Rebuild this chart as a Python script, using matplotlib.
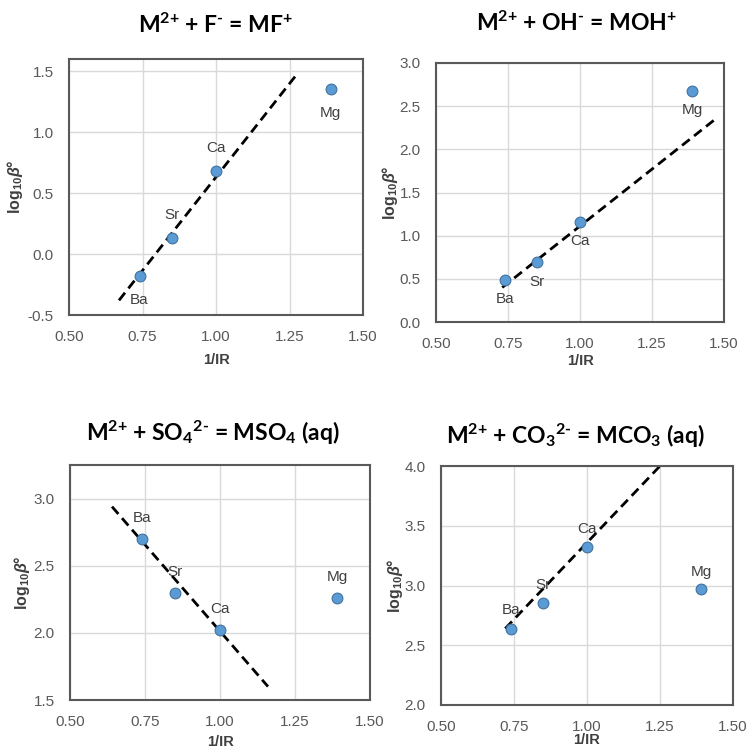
import matplotlib
matplotlib.use("Agg")
import matplotlib.pyplot as plt

plt.rcParams['font.family'] = ['Liberation Sans', 'DejaVu Sans']
plt.rcParams['mathtext.default'] = 'regular'
plt.rcParams['mathtext.fontset'] = 'custom'
plt.rcParams['mathtext.rm'] = 'Lato:bold'
plt.rcParams['mathtext.bf'] = 'Lato:bold'
plt.rcParams['mathtext.it'] = 'Liberation Sans:italic:bold'

# 1/IR values for the four metals
metals = ['Ba', 'Sr', 'Ca', 'Mg']
inv_ir = [0.74, 0.85, 1.00, 1.39]

# log10 beta values
logb_f = [-0.18, 0.13, 0.68, 1.35]
logb_oh = [0.49, 0.69, 1.16, 2.68]
logb_so4 = [2.70, 2.30, 2.02, 2.26]
logb_co3 = [2.64, 2.85, 3.32, 2.97]

# dashed fit lines (end points)
fit_f_x, fit_f_y = [0.67, 1.28], [-0.38, 1.49]
fit_oh_x, fit_oh_y = [0.73, 1.47], [0.40, 2.35]
fit_so4_x, fit_so4_y = [0.64, 1.16], [2.94, 1.60]
fit_co3_x, fit_co3_y = [0.72, 1.25], [2.64, 4.00]

titles = [r'M$^{\text{2+}}$ + F$^{\text{-}}$ = MF$^{\text{+}}$',
          r'M$^{\text{2+}}$ + OH$^{\text{-}}$ = MOH$^{\text{+}}$',
          r'M$^{\text{2+}}$ + SO$_{\text{4}}$$^{\text{2-}}$ = MSO$_{\text{4}}$ (aq)',
          r'M$^{\text{2+}}$ + CO$_{\text{3}}$$^{\text{2-}}$ = MCO$_{\text{3}}$ (aq)']

fig = plt.figure(figsize=(7.5, 7.52), dpi=100)

W, H = 750, 752
def box(l, r, t, b):
    return [l / W, (H - b) / H, (r - l) / W, (b - t) / H]

panels = [
    dict(pos=box(69, 363, 59, 315), y=logb_f, fx=fit_f_x, fy=fit_f_y,
         ylim=(-0.5, 1.6), yt=[-0.5, 0, 0.5, 1.0, 1.5],
         off=[-17, 17, 17, -17], title_xy=(215, 25), xl=360, yl=15),
    dict(pos=box(436, 724, 63, 322), y=logb_oh, fx=fit_oh_x, fy=fit_oh_y,
         ylim=(0, 3.0), yt=[0, 0.5, 1.0, 1.5, 2.0, 2.5, 3.0],
         off=[-14, -14, -14, -14], title_xy=(577, 23), xl=361, yl=390),
    dict(pos=box(70, 370, 465, 700), y=logb_so4, fx=fit_so4_x, fy=fit_so4_y,
         ylim=(1.5, 3.25), yt=[1.5, 2.0, 2.5, 3.0],
         off=[15, 15, 15, 15], title_xy=(213, 433), xl=742, yl=22),
    dict(pos=box(441, 733, 466, 705), y=logb_co3, fx=fit_co3_x, fy=fit_co3_y,
         ylim=(2.0, 4.0), yt=[2.0, 2.5, 3.0, 3.5, 4.0],
         off=[13, 13, 13, 12], title_xy=(575, 436), xl=740, yl=395),
]

for p, title in zip(panels, titles):
    ax = fig.add_axes(p['pos'])
    ax.plot(p['fx'], p['fy'], color='black', lw=2, linestyle=(0, (3.5, 2)), zorder=2)
    ax.scatter(inv_ir, p['y'], s=60, color='#5b9bd5', edgecolor='#41719c',
               linewidth=0.8, zorder=3)
    for m, x, y, o in zip(metals, inv_ir, p['y'], p['off']):
        ax.annotate(m, (x, y), xytext=(0, o), textcoords='offset points',
                    ha='center', va='center', fontsize=11, color='#404040')
    ax.set_xlim(0.5, 1.5)
    ax.set_ylim(*p['ylim'])
    ax.set_xticks([0.5, 0.75, 1.0, 1.25, 1.5])
    ax.set_xticklabels(['0.50', '0.75', '1.00', '1.25', '1.50'])
    ax.set_yticks(p['yt'])
    ax.set_yticklabels(['%.1f' % v for v in p['yt']])
    ax.tick_params(length=0, labelsize=11, labelcolor='#595959', pad=11)
    ax.grid(True, color='#d9d9d9', lw=1)
    ax.set_axisbelow(True)
    for s in ax.spines.values():
        s.set_color('#595959')
        s.set_linewidth(1.5)
    l, b, w, h = p['pos']
    ax.set_xlabel('1/IR', fontsize=10.5, fontweight='bold', color='#404040',
                  va='center')
    ax.xaxis.set_label_coords(0.5, ((H - p['xl']) / H - b) / h)
    ax.set_ylabel(r'log$_{10}$$\mathit{\beta}$°', fontsize=11.5, fontweight='bold',
                  color='#404040', va='center')
    ax.yaxis.set_label_coords((p['yl'] / W - l) / w, 0.5)
    tx, ty = p['title_xy']
    fig.text(tx / W, 1 - ty / H, title, ha='center', va='center',
             fontsize=16.5, fontweight='bold', family=['Lato', 'DejaVu Sans'])

fig.savefig('out.png', dpi=100)
